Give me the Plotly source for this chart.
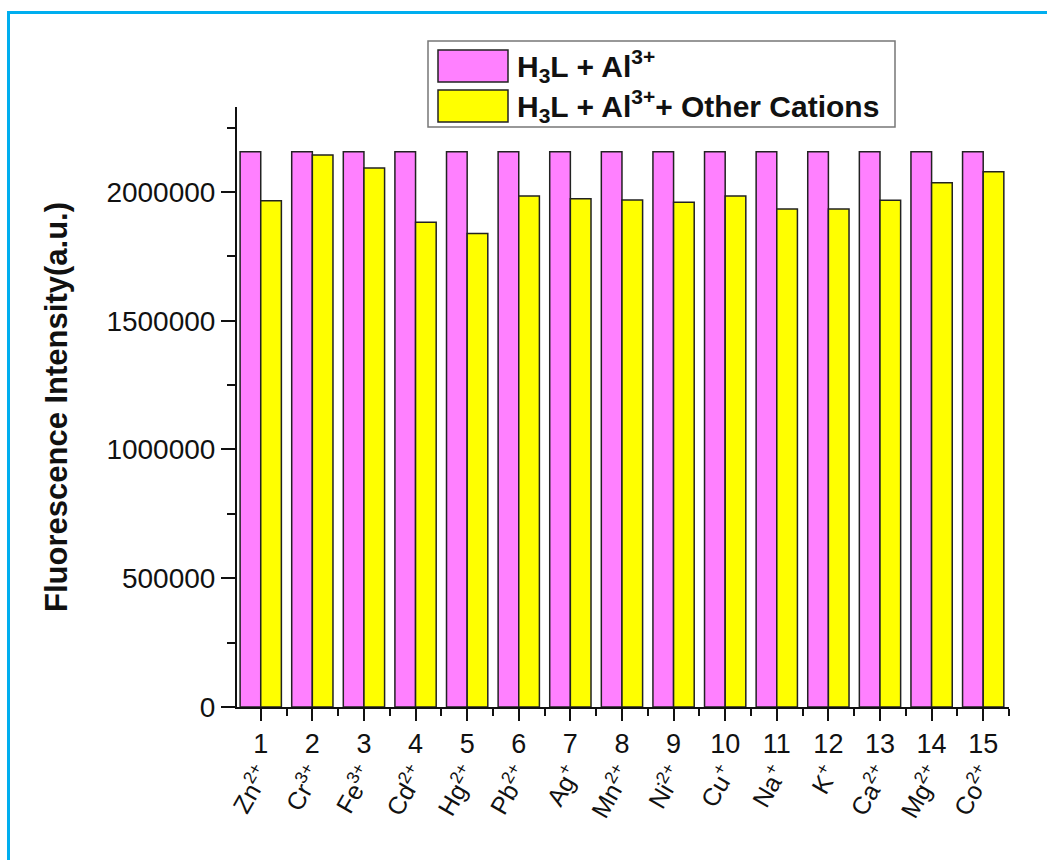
import plotly.graph_objects as go

# Data
sample_ids = list(range(1, 16))
cations = ["Zn<sup>2+</sup>", "Cr<sup>3+</sup>", "Fe<sup>3+</sup>", "Cd<sup>2+</sup>",
           "Hg<sup>2+</sup>", "Pb<sup>2+</sup>", "Ag<sup>+</sup>", "Mn<sup>2+</sup>",
           "Ni<sup>2+</sup>", "Cu<sup>+</sup>", "Na<sup>+</sup>", "K<sup>+</sup>",
           "Ca<sup>2+</sup>", "Mg<sup>2+</sup>", "Co<sup>2+</sup>"]
h3l_al = [2156000] * 15
h3l_al_other = [1966000, 2144000, 2093000, 1882000, 1839000, 1984000, 1974000,
                1969000, 1960000, 1984000, 1934000, 1934000, 1968000, 2036000, 2079000]

legend_labels = ["H<sub>3</sub>L + Al<sup>3+</sup>",
                 "H<sub>3</sub>L + Al<sup>3+</sup>+ Other Cations"]

PINK = "#FF80FF"
YELLOW = "#FFFF00"
EDGE = "#222222"
FONT = "Liberation Sans, Arial, sans-serif"

W, H = 1047, 860
ML, MR, MT, MB = 237, 38, 107, 153
PW, PH = W - ML - MR, H - MT - MB


def px(x):
    return (x - ML) / PW


def py(y):
    return (H - MB - y) / PH


fig = go.Figure()
fig.add_trace(go.Bar(x=sample_ids, y=h3l_al, name=legend_labels[0],
                     marker=dict(color=PINK, line=dict(color=EDGE, width=1.5)),
                     showlegend=False))
fig.add_trace(go.Bar(x=sample_ids, y=h3l_al_other, name=legend_labels[1],
                     marker=dict(color=YELLOW, line=dict(color=EDGE, width=1.5)),
                     showlegend=False))
# invisible trace carrying the cation axis
fig.add_trace(go.Scatter(x=sample_ids, y=h3l_al_other, xaxis="x2", mode="markers",
                         marker=dict(opacity=0), showlegend=False, hoverinfo="skip"))

xr = [0.54, 15.5]
fig.update_layout(
    width=W, height=H,
    margin=dict(l=ML, r=MR, t=MT, b=MB),
    paper_bgcolor="white", plot_bgcolor="white",
    barmode="group", bargap=0.2, bargroupgap=0,
    font=dict(family=FONT, color="#111111"),
    xaxis=dict(range=xr, tickmode="linear", tick0=1, dtick=1,
               ticks="outside", ticklen=12, tickwidth=2, tickcolor="#111",
               minor=dict(ticks="outside", ticklen=7, tickwidth=2, tickcolor="#111",
                          dtick=0.5, tick0=0.5),
               showline=True, linecolor="#111", linewidth=2,
               showgrid=False, zeroline=False,
               tickfont=dict(size=27, family=FONT)),
    xaxis2=dict(range=xr, overlaying="x", anchor="y", side="bottom",
                tickmode="array", tickvals=sample_ids, ticktext=cations,
                tickangle=-60, ticks="", showline=False, showgrid=False,
                zeroline=False, ticklabelstandoff=46,
                tickfont=dict(size=25, family=FONT)),
    yaxis=dict(range=[0, 2330000], tickmode="linear", tick0=0, dtick=500000,
               tickformat="d",
               ticks="outside", ticklen=14, tickwidth=2, tickcolor="#111",
               minor=dict(ticks="outside", ticklen=8, tickwidth=2, tickcolor="#111",
                          dtick=250000),
               showline=True, linecolor="#111", linewidth=2,
               showgrid=False, zeroline=False,
               tickfont=dict(size=28, family=FONT),
               title=dict(text="<b>Fluorescence Intensity(a.u.)</b>",
                          font=dict(size=31, family=FONT), standoff=30)),
)

# Legend box with swatches
shapes = [
    dict(type="rect", xref="paper", yref="paper",
         x0=px(428), x1=px(895), y0=py(127), y1=py(41),
         line=dict(color="#777777", width=1.5), fillcolor="white"),
    dict(type="rect", xref="paper", yref="paper",
         x0=px(438), x1=px(508), y0=py(82), y1=py(50),
         line=dict(color=EDGE, width=1.5), fillcolor=PINK),
    dict(type="rect", xref="paper", yref="paper",
         x0=px(438), x1=px(508), y0=py(122), y1=py(90),
         line=dict(color=EDGE, width=1.5), fillcolor=YELLOW),
    # page frame
    dict(type="line", xref="paper", yref="paper",
         x0=px(8.5), x1=px(8.5), y0=py(H + 5), y1=py(12.5),
         line=dict(color="#00AEEF", width=3)),
    dict(type="line", xref="paper", yref="paper",
         x0=px(7), x1=px(W + 5), y0=py(12.5), y1=py(12.5),
         line=dict(color="#00AEEF", width=3)),
]
fig.update_layout(shapes=shapes)

fig.add_annotation(xref="paper", yref="paper", x=px(515), y=py(66),
                   xanchor="left", yanchor="middle", showarrow=False,
                   text="<b>" + legend_labels[0] + "</b>",
                   font=dict(size=30, family=FONT, color="#111"))
fig.add_annotation(xref="paper", yref="paper", x=px(515), y=py(106),
                   xanchor="left", yanchor="middle", showarrow=False,
                   text="<b>" + legend_labels[1] + "</b>",
                   font=dict(size=30, family=FONT, color="#111"))

fig.write_html("out.html")
